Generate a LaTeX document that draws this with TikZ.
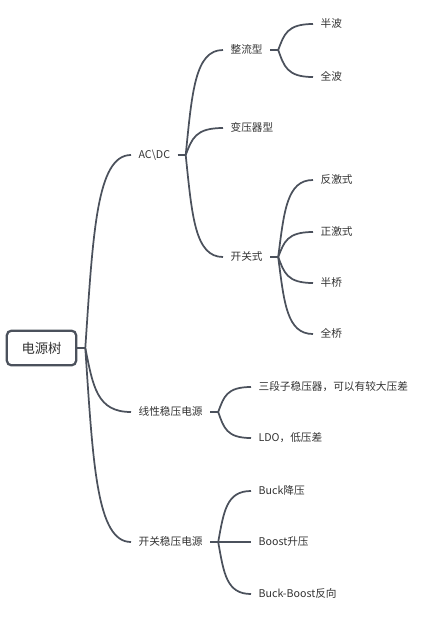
\documentclass[tikz,border=0pt]{standalone}
\usepackage{fontspec}
\newfontfamily\cjk{Noto Sans CJK SC}
\usetikzlibrary{positioning, calc}
\definecolor{linegray}{HTML}{4B515C}
\definecolor{textgray}{HTML}{333333}

\tikzset{
    topic/.style={font=\cjk\fontsize{8}{10}\selectfont, text=textgray, anchor=west,
        inner xsep=5.5pt, inner ysep=1pt, text height=6.6pt, text depth=1.4pt},
    root/.style={draw=linegray, line width=1.7pt, rounded corners=3.5pt,
        minimum width=52pt, minimum height=26pt, text=textgray,
        font=\cjk\fontsize{10}{12}\selectfont},
    branch/.style={draw=linegray, line width=1.3pt},
    twig/.style={to path={let \p1=(\tikztostart), \p2=(\tikztotarget) in
        .. controls ({\x1+0.17*(\x2-\x1)},{\y1+0.6*(\y2-\y1)})
        and ({\x1+0.25*(\x2-\x1)},\y2) .. (\tikztotarget)}},
}

\begin{document}
\begin{tikzpicture}[x=0.75pt, y=-0.75pt]
    \useasboundingbox (0,0) rectangle (428,619);

    % root
    \node[root] (tree) at (41.5,348) {电源树};

    % first level
    \node[topic] (acdc)   at (131,155) {AC\textbackslash DC};
    \node[topic] (linear) at (131,412) {线性稳压电源};
    \node[topic] (swreg)  at (131,542) {开关稳压电源};

    % AC\DC
    \node[topic] (rect)   at (223,50)  {整流型};
    \node[topic] (xfmr)   at (223,128) {变压器型};
    \node[topic] (swmode) at (223,257) {开关式};

    \node[topic] (half)    at (313,24)  {半波};
    \node[topic] (full)    at (313,77)  {全波};
    \node[topic] (flyback) at (313,180) {反激式};
    \node[topic] (forward) at (313,232) {正激式};
    \node[topic] (halfbr)  at (313,283) {半桥};
    \node[topic] (fullbr)  at (313,334) {全桥};

    % linear / switching regulators
    \node[topic] (threeterm) at (251,387) {三段子稳压器，可以有较大压差};
    \node[topic] (ldo)       at (251,438) {LDO，低压差};
    \node[topic] (buck)      at (251,491) {Buck降压};
    \node[topic] (boost)     at (251,542) {Boost升压};
    \node[topic] (buckboost) at (251,594) {Buck-Boost反向};

    % stubs
    \draw[branch] (tree.east) -- ++(6pt,0) coordinate (tree-s);
    \draw[branch] (acdc.east) -- ++(6pt,0) coordinate (acdc-s);
    \draw[branch] (rect.east) -- ++(6pt,0) coordinate (rect-s);
    \draw[branch] (swmode.east) -- ++(6pt,0) coordinate (swmode-s);
    \draw[branch] (linear.east) -- ++(6pt,0) coordinate (linear-s);
    \draw[branch] (swreg.east) -- ++(6pt,0) coordinate (swreg-s);

    % branches
    \draw[branch] (tree-s) to[twig] (acdc.west);
    \draw[branch] (tree-s) to[twig] (linear.west);
    \draw[branch] (tree-s) to[twig] (swreg.west);

    \draw[branch] (acdc-s) to[twig] (rect.west);
    \draw[branch] (acdc-s) to[twig] (xfmr.west);
    \draw[branch] (acdc-s) to[twig] (swmode.west);

    \draw[branch] (rect-s) to[twig] (half.west);
    \draw[branch] (rect-s) to[twig] (full.west);

    \draw[branch] (swmode-s) to[twig] (flyback.west);
    \draw[branch] (swmode-s) to[twig] (forward.west);
    \draw[branch] (swmode-s) to[twig] (halfbr.west);
    \draw[branch] (swmode-s) to[twig] (fullbr.west);

    \draw[branch] (linear-s) to[twig] (threeterm.west);
    \draw[branch] (linear-s) to[twig] (ldo.west);

    \draw[branch] (swreg-s) to[twig] (buck.west);
    \draw[branch] (swreg-s) -- (boost.west);
    \draw[branch] (swreg-s) to[twig] (buckboost.west);

\end{tikzpicture}
\end{document}
